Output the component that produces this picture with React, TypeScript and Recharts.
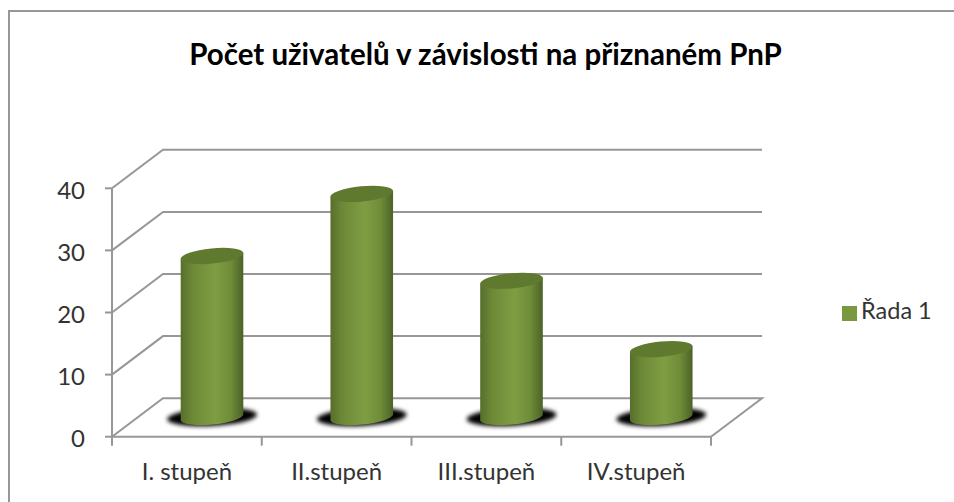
import React from "react";
import { BarChart, Bar, XAxis, YAxis, CartesianGrid, Legend } from "recharts";

const categories = ["I. stupeň", "II.stupeň", "III.stupeň", "IV.stupeň"];
const values = [26, 36, 22, 11];
const yTicks = [0, 10, 20, 30, 40];
const seriesName = "Řada 1";
const title = "Počet uživatelů v závislosti na přiznaném PnP";

const rows = categories.map((c, i) => ({ name: c, value: values[i] }));

const FONT = "Lato, 'Noto Sans', sans-serif";
const GRAY = "#979797";
const TEXT = "#333333";
const DX = 51;
const DY = 38.5;
const PLOT_W = 599;
const PLOT_BOTTOM = 436.7;

function GridLine(props: any) {
  const { x1, x2, y1 } = props;
  const isFloor = Math.abs(y1 - PLOT_BOTTOM) < 1;
  const pts = [
    [x1, y1],
    [x1 + DX, y1 - DY],
    [x2 + DX, y1 - DY],
  ];
  if (isFloor) pts.push([x2, y1]);
  return (
    <polyline
      points={pts.map((p) => p.join(",")).join(" ")}
      fill="none"
      stroke={GRAY}
      strokeWidth={2}
    />
  );
}

function Cylinder(props: any) {
  const { x, y, width, height } = props;
  const cx = x + width / 2 + DX / 2;
  const top = y - DY / 2;
  const bottom = y + height - DY / 2;
  const rx = width / 2;
  const ry = 7.6;
  const a = -5.5;
  const dy = 3;
  const side = `M${cx - rx + 0.2},${top + dy} L${cx - rx + 0.2},${bottom + dy} A${rx},${ry} ${a} 0 0 ${cx + rx - 0.2},${bottom - dy} L${cx + rx - 0.2},${top - dy} Z`;
  return (
    <g>
      <g filter="url(#shadowBlur)">
        <ellipse cx={cx} cy={bottom - 0.5} rx={45} ry={9} transform={`rotate(-3 ${cx} ${bottom})`} fill="#000" />
      </g>
      <path d={side} fill="url(#cylSide)" />
      <ellipse cx={cx} cy={top} rx={rx} ry={ry} transform={`rotate(${a} ${cx} ${top})`} fill="#5f7a2e" />
    </g>
  );
}

function XTick(props: any) {
  const { x, y, payload, index } = props;
  const half = PLOT_W / categories.length / 2;
  return (
    <g>
      <line x1={x - half} x2={x - half} y1={PLOT_BOTTOM} y2={PLOT_BOTTOM + 9} stroke={GRAY} strokeWidth={2} />
      {index === categories.length - 1 && (
        <line x1={x + half} x2={x + half} y1={PLOT_BOTTOM} y2={PLOT_BOTTOM + 9} stroke={GRAY} strokeWidth={2} />
      )}
      <text x={x} y={y + 35} textAnchor="middle" fontFamily={FONT} fontSize={24} fill={TEXT}>
        {payload.value}
      </text>
    </g>
  );
}

export default function App() {
  return (
    <div style={{ position: "absolute", left: 0, top: 0, width: 954, height: 502, overflow: "hidden", background: "#fff" }}>
      <div
        style={{
          position: "absolute",
          left: 8,
          top: 10,
          width: 960,
          height: 510,
          borderLeft: `2px solid ${GRAY}`,
          borderTop: `2px solid ${GRAY}`,
        }}
      />
      <div
        style={{
          position: "absolute",
          left: 0,
          top: 36,
          width: 971,
          textAlign: "center",
          fontFamily: FONT,
          fontWeight: 700,
          fontSize: 29.5,
          lineHeight: "36px",
          color: "#000",
        }}
      >
        {title}
      </div>
      <div style={{ position: "absolute", left: 0, top: 0 }}>
        <BarChart
          width={954}
          height={502}
          data={rows}
          margin={{ top: 188.3, right: 133, bottom: 0, left: 50 }}
          barSize={63}
        >
          <defs>
            <linearGradient id="cylSide" x1="0" x2="1" y1="0" y2="0">
              <stop offset="0" stopColor="#566f2c" />
              <stop offset="0.18" stopColor="#6c8836" />
              <stop offset="0.55" stopColor="#7f9e43" />
              <stop offset="0.8" stopColor="#6f8c38" />
              <stop offset="1" stopColor="#4c6228" />
            </linearGradient>
            <filter id="shadowBlur" x="-20%" y="-60%" width="140%" height="220%">
              <feGaussianBlur stdDeviation="2.2" />
            </filter>
          </defs>
          <CartesianGrid horizontal={(p: any) => <GridLine key={p.key} {...p} />} vertical={false} />
          <XAxis
            dataKey="name"
            height={65.3}
            interval={0}
            axisLine={{ stroke: GRAY, strokeWidth: 2 }}
            tickLine={false}
            tick={<XTick />}
          />
          <YAxis
            width={62}
            domain={[0, 40]}
            ticks={yTicks}
            axisLine={{ stroke: GRAY, strokeWidth: 2 }}
            tickLine={{ stroke: GRAY, strokeWidth: 2 }}
            tickSize={7}
            tickMargin={20}
            tick={{ fontFamily: FONT, fontSize: 24, fill: TEXT, dy: 2 }}
          />
          <Legend
            layout="vertical"
            align="right"
            verticalAlign="top"
            width={110}
            iconType="square"
            iconSize={15}
            wrapperStyle={{ left: 842, top: 296, right: "auto", fontFamily: FONT, fontSize: 23.5 }}
            formatter={(v: string) => <span style={{ color: TEXT }}>{v}</span>}
          />
          <Bar dataKey="value" name={seriesName} fill="#7a983f" shape={<Cylinder />} isAnimationActive={false} />
        </BarChart>
      </div>
    </div>
  );
}
